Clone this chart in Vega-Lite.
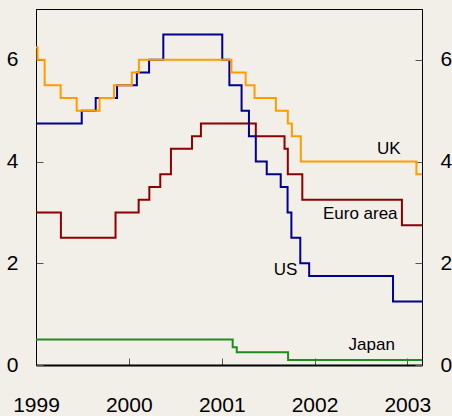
{
  "$schema": "https://vega.github.io/schema/vega-lite/v6.json",
  "width": 386,
  "height": 356,
  "autosize": {"type": "none"},
  "padding": {"left": 36, "top": 9, "right": 30, "bottom": 51},
  "background": "#F2EFE9",
  "config": {
    "view": {"stroke": "#000000", "strokeWidth": 1},
    "font": "Liberation Sans Narrow, Arial Narrow, Liberation Sans, sans-serif",
    "axis": {
      "labelFont": "Liberation Sans Narrow, Arial Narrow, Liberation Sans, sans-serif",
      "labelFontSize": 21,
      "labelColor": "#000000",
      "domainColor": "#000000",
      "tickColor": "#555555",
      "tickSize": -7,
      "tickWidth": 1,
      "grid": false,
      "title": null
    }
  },
  "datasets": {
    "rates": [
      {"series": "Japan", "date": "1999-01-01", "rate": 0.5},
      {"series": "Japan", "date": "2001-02-13", "rate": 0.35},
      {"series": "Japan", "date": "2001-03-01", "rate": 0.25},
      {"series": "Japan", "date": "2001-09-19", "rate": 0.1},
      {"series": "Japan", "date": "2003-02-28", "rate": 0.1},
      {"series": "Euro area", "date": "1999-01-01", "rate": 3.0},
      {"series": "Euro area", "date": "1999-04-09", "rate": 2.5},
      {"series": "Euro area", "date": "1999-11-10", "rate": 3.0},
      {"series": "Euro area", "date": "2000-02-09", "rate": 3.25},
      {"series": "Euro area", "date": "2000-03-22", "rate": 3.5},
      {"series": "Euro area", "date": "2000-05-04", "rate": 3.75},
      {"series": "Euro area", "date": "2000-06-15", "rate": 4.25},
      {"series": "Euro area", "date": "2000-09-06", "rate": 4.5},
      {"series": "Euro area", "date": "2000-10-11", "rate": 4.75},
      {"series": "Euro area", "date": "2001-05-15", "rate": 4.5},
      {"series": "Euro area", "date": "2001-09-05", "rate": 4.25},
      {"series": "Euro area", "date": "2001-09-18", "rate": 3.75},
      {"series": "Euro area", "date": "2001-11-14", "rate": 3.25},
      {"series": "Euro area", "date": "2002-12-11", "rate": 2.75},
      {"series": "Euro area", "date": "2003-02-28", "rate": 2.75},
      {"series": "US", "date": "1999-01-01", "rate": 4.75},
      {"series": "US", "date": "1999-06-30", "rate": 5.0},
      {"series": "US", "date": "1999-08-24", "rate": 5.25},
      {"series": "US", "date": "1999-11-16", "rate": 5.5},
      {"series": "US", "date": "2000-02-02", "rate": 5.75},
      {"series": "US", "date": "2000-03-21", "rate": 6.0},
      {"series": "US", "date": "2000-05-16", "rate": 6.5},
      {"series": "US", "date": "2001-01-03", "rate": 6.0},
      {"series": "US", "date": "2001-01-31", "rate": 5.5},
      {"series": "US", "date": "2001-03-20", "rate": 5.0},
      {"series": "US", "date": "2001-04-18", "rate": 4.5},
      {"series": "US", "date": "2001-05-15", "rate": 4.0},
      {"series": "US", "date": "2001-06-27", "rate": 3.75},
      {"series": "US", "date": "2001-08-21", "rate": 3.5},
      {"series": "US", "date": "2001-09-17", "rate": 3.0},
      {"series": "US", "date": "2001-10-02", "rate": 2.5},
      {"series": "US", "date": "2001-11-06", "rate": 2.0},
      {"series": "US", "date": "2001-12-11", "rate": 1.75},
      {"series": "US", "date": "2002-11-06", "rate": 1.25},
      {"series": "US", "date": "2003-02-28", "rate": 1.25},
      {"series": "UK", "date": "1999-01-01", "rate": 6.25},
      {"series": "UK", "date": "1999-01-07", "rate": 6.0},
      {"series": "UK", "date": "1999-02-04", "rate": 5.5},
      {"series": "UK", "date": "1999-04-08", "rate": 5.25},
      {"series": "UK", "date": "1999-06-10", "rate": 5.0},
      {"series": "UK", "date": "1999-09-08", "rate": 5.25},
      {"series": "UK", "date": "1999-11-04", "rate": 5.5},
      {"series": "UK", "date": "2000-01-13", "rate": 5.75},
      {"series": "UK", "date": "2000-02-10", "rate": 6.0},
      {"series": "UK", "date": "2001-02-08", "rate": 5.75},
      {"series": "UK", "date": "2001-04-05", "rate": 5.5},
      {"series": "UK", "date": "2001-05-10", "rate": 5.25},
      {"series": "UK", "date": "2001-08-02", "rate": 5.0},
      {"series": "UK", "date": "2001-09-18", "rate": 4.75},
      {"series": "UK", "date": "2001-10-04", "rate": 4.5},
      {"series": "UK", "date": "2001-11-08", "rate": 4.0},
      {"series": "UK", "date": "2003-02-06", "rate": 3.75},
      {"series": "UK", "date": "2003-02-28", "rate": 3.75}
    ],
    "labels": [
      {"label": "UK", "date": "2002-10-20", "rate": 4.25},
      {"label": "Euro area", "date": "2002-06-30", "rate": 2.96},
      {"label": "US", "date": "2001-09-09", "rate": 1.87},
      {"label": "Japan", "date": "2002-08-14", "rate": 0.39}
    ]
  },
  "resolve": {"axis": {"y": "independent"}},
  "layer": [
    {
      "data": {"name": "rates"},
      "mark": {"type": "line", "interpolate": "step-after", "strokeWidth": 2, "clip": true},
      "encoding": {
        "x": {
          "field": "date", "type": "temporal",
          "scale": {"domain": ["1999-01-01", "2003-02-28"]},
          "axis": {
            "orient": "bottom",
            "values": [{"year": 1999}, {"year": 2000}, {"year": 2001}, {"year": 2002}, {"year": 2003}],
            "format": "%Y",
            "labelPadding": 36,
            "domainWidth": 2,
            "labelFlush": false
          }
        },
        "y": {
          "field": "rate", "type": "quantitative",
          "scale": {"domain": [0, 7], "nice": false, "zero": true},
          "axis": {"orient": "left", "values": [0, 2, 4, 6], "labelPadding": 25, "domainWidth": 1}
        },
        "color": {
          "field": "series", "type": "nominal",
          "scale": {"domain": ["Japan", "Euro area", "US", "UK"], "range": ["#1E8C1E", "#8E0000", "#00008E", "#FF9C00"]},
          "legend": null
        },
        "order": {"value": 0}
      }
    },
    {
      "data": {"name": "labels"},
      "mark": {"type": "text", "align": "center", "baseline": "middle", "fontSize": 17, "color": "#000000", "font": "Liberation Sans Narrow, Arial Narrow, Liberation Sans, sans-serif"},
      "encoding": {
        "x": {"field": "date", "type": "temporal"},
        "y": {
          "field": "rate", "type": "quantitative",
          "axis": {"orient": "right", "values": [0, 2, 4, 6], "labelPadding": 25, "domainWidth": 1}
        },
        "text": {"field": "label"}
      }
    }
  ]
}
